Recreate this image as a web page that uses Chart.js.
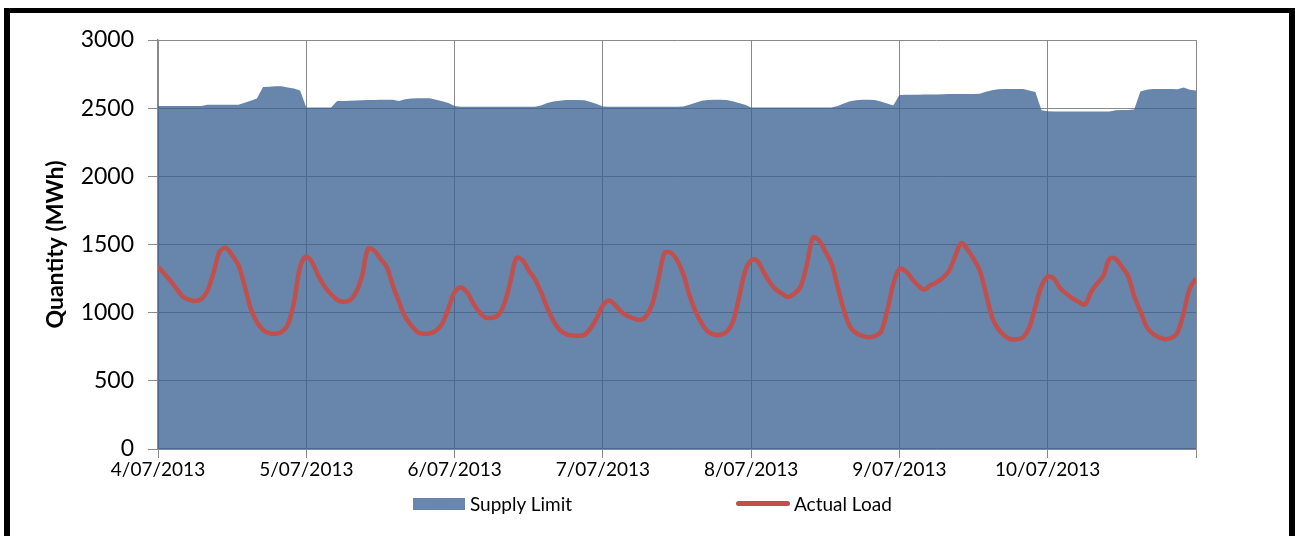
<!DOCTYPE html>
<html>
<head>
<meta charset="utf-8">
<script src="https://cdn.jsdelivr.net/npm/chart.js@4.4.0/dist/chart.umd.min.js"></script>
<style>
    body { margin: 0; background: #fff; font-family: Lato, sans-serif; }
    #wrap { position: relative; width: 1295px; height: 536px; overflow: hidden; }
    #frame {
        position: absolute; left: 4px; top: 8px; width: 1291px; height: 600px;
        box-sizing: border-box; border: 6px solid #000; border-top-width: 5px;
        pointer-events: none;
    }
    #legend { position: absolute; left: 0; top: 492px; width: 1295px; height: 24px; font-size: 19px; color: #000; }
    .item { position: absolute; top: 0; height: 24px; line-height: 24px; }
    .swatch { position: absolute; }
</style>
</head>
<body>
<div id="wrap">
    <canvas id="supplyChart" width="1295" height="536"></canvas>
    <div id="frame"></div>
    <div id="legend">
        <div class="swatch" style="left:413px;top:6px;width:52px;height:12px;background:#6886ae;"></div>
        <div class="item" style="left:470px;">Supply Limit</div>
        <div class="swatch" style="left:736px;top:9px;width:54px;height:5px;background:#c0504d;border-radius:3px;"></div>
        <div class="item" style="left:794px;">Actual Load</div>
    </div>
</div>
<script>
// days on the x axis (one tick every 24 hours)
const dayLabels = ["4/07/2013", "5/07/2013", "6/07/2013", "7/07/2013", "8/07/2013", "9/07/2013", "10/07/2013", ""];

// hourly readings, 4/07 00:00 .. 11/07 00:00
const supplyLimit = [
    2515, 2515, 2515, 2515, 2515, 2515, 2515, 2515, 2525, 2525, 2525, 2525, 2525, 2525, 2540, 2555, 2570, 2655, 2658, 2660, 2660, 2652, 2644, 2630,
    2505, 2505, 2505, 2505, 2505, 2552, 2553, 2555, 2557, 2558, 2559, 2560, 2561, 2562, 2562, 2552, 2565, 2570, 2572, 2572, 2572, 2562, 2550, 2538,
    2515, 2510, 2510, 2510, 2510, 2510, 2510, 2510, 2510, 2510, 2510, 2510, 2510, 2510, 2520, 2538, 2548, 2555, 2560, 2560, 2560, 2558, 2545, 2530,
    2512, 2510, 2510, 2510, 2510, 2510, 2510, 2510, 2510, 2510, 2510, 2510, 2510, 2512, 2525, 2540, 2555, 2560, 2562, 2562, 2560, 2550, 2538, 2525,
    2505, 2505, 2505, 2505, 2505, 2505, 2505, 2505, 2505, 2505, 2505, 2505, 2505, 2505, 2515, 2535, 2550, 2558, 2562, 2562, 2560, 2548, 2535, 2520,
    2597, 2598, 2598, 2599, 2600, 2600, 2601, 2602, 2603, 2603, 2604, 2604, 2604, 2605, 2620, 2632, 2638, 2640, 2641, 2641, 2641, 2630, 2618, 2485,
    2478, 2476, 2476, 2476, 2476, 2476, 2476, 2476, 2476, 2476, 2476, 2485, 2487, 2487, 2490, 2622, 2636, 2640, 2641, 2641, 2641, 2638, 2652, 2636,
    2630
];
const actualLoad = [
    1337, 1287, 1235, 1175, 1118, 1095, 1085, 1100, 1160, 1295, 1450, 1475, 1420, 1350, 1200, 1030, 930, 873, 850, 845, 858, 910, 1075, 1337,
    1412, 1365, 1265, 1190, 1135, 1095, 1080, 1090, 1145, 1265, 1470, 1455, 1395, 1337, 1200, 1080, 970, 905, 858, 845, 848, 870, 920, 1032,
    1150, 1185, 1150, 1070, 1005, 965, 962, 980, 1060, 1220, 1400, 1385, 1310, 1245, 1150, 1035, 940, 875, 843, 832, 830, 838, 885, 960,
    1055, 1090, 1056, 1005, 975, 958, 946, 975, 1065, 1250, 1440, 1440, 1385, 1285, 1130, 1010, 922, 862, 840, 838, 858, 928, 1105, 1300,
    1385, 1380, 1300, 1225, 1170, 1140, 1115, 1140, 1190, 1350, 1550, 1530, 1450, 1360, 1190, 1020, 897, 850, 830, 820, 828, 860, 1010, 1210,
    1320, 1305, 1250, 1200, 1170, 1200, 1222, 1255, 1305, 1410, 1510, 1465, 1395, 1310, 1140, 965, 880, 830, 805, 805, 819, 890, 1045, 1195,
    1265, 1250, 1180, 1140, 1105, 1080, 1060, 1150, 1215, 1270, 1395, 1395, 1335, 1270, 1120, 1010, 897, 845, 820, 805, 815, 855, 1000, 1180,
    1252
];
const hours = actualLoad.map((v, i) => i);

new Chart("supplyChart", {
    type: "line",
    data: {
        labels: hours,
        datasets: [{
            label: "Actual Load",
            data: actualLoad,
            borderColor: "#c0504d",
            borderWidth: 4.5,
            pointRadius: 0,
            tension: 0.35,
            fill: false,
            order: 0
        }, {
            label: "Supply Limit",
            data: supplyLimit,
            backgroundColor: "rgba(56, 96, 146, 0.76)",
            borderWidth: 0,
            pointRadius: 0,
            tension: 0,
            fill: "origin",
            order: 1
        }]
    },
    options: {
        responsive: false,
        animation: false,
        layout: {
            padding: { left: 42, right: 99, top: 40, bottom: 57 }
        },
        plugins: {
            legend: { display: false },
            tooltip: { enabled: false }
        },
        scales: {
            x: {
                type: "linear",
                min: 0,
                max: 168,
                grid: { color: "#8a8a8a", lineWidth: 1, tickLength: 9 },
                border: { color: "#8a8a8a", width: 1.5 },
                ticks: {
                    stepSize: 24,
                    autoSkip: false,
                    maxRotation: 0,
                    color: "black",
                    padding: 0,
                    font: { family: "Lato", size: 19 },
                    callback: (value) => dayLabels[value / 24]
                },
                afterFit: (scale) => { scale.height = 30; }
            },
            y: {
                min: 0,
                max: 3000,
                grid: { color: "#8a8a8a", lineWidth: 1, tickLength: 10 },
                border: { color: "#8a8a8a", width: 1.5 },
                ticks: {
                    stepSize: 500,
                    color: "black",
                    padding: 14,
                    font: { family: "Lato", size: 23 },
                    callback: (value) => String(value)
                },
                title: {
                    display: true,
                    text: "Quantity (MWh)",
                    color: "black",
                    padding: 0,
                    font: { family: "Lato", size: 23, weight: "bold" }
                },
                afterFit: (scale) => { scale.width = 116; }
            }
        }
    }
});
</script>
</body>
</html>
